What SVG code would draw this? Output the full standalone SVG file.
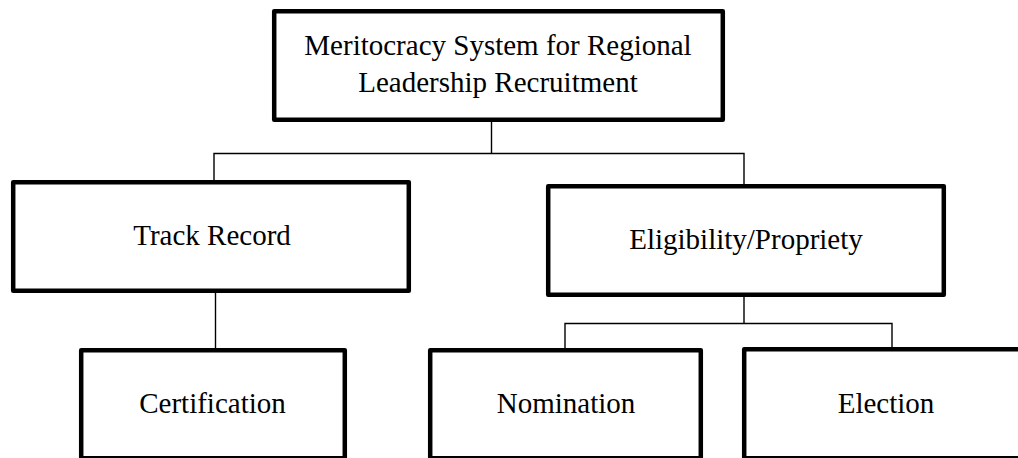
<svg xmlns="http://www.w3.org/2000/svg" width="1018" height="458" viewBox="0 0 1018 458">
<style>
.box{fill:#fff;stroke:#000;stroke-width:4.5;stroke-linejoin:round}
.lbl{font-family:"Liberation Serif","Times New Roman",serif;font-size:29px;fill:#000;text-anchor:middle}
.con{fill:none;stroke:#000;stroke-width:1.4}
</style>
<rect width="1018" height="458" fill="#fff"/>
<g id="connectors">
<path class="con" d="M491.5 122 V153.5 M214 180 V153.5 H744 V184"/>
<path class="con" d="M215.5 293 V348"/>
<path class="con" d="M744 297 V323.5 M565 348 V323.5 H892 V347"/>
</g>
<g id="root">
<rect class="box" x="274.2" y="11.2" width="448.6" height="108.6"/>
<text class="lbl" x="498" y="55">Meritocracy System for Regional</text>
<text class="lbl" x="498" y="92">Leadership Recruitment</text>
</g>
<g id="track-record">
<rect class="box" x="13.2" y="182.2" width="395.6" height="108.6"/>
<text class="lbl" x="212" y="245">Track Record</text>
</g>
<g id="eligibility">
<rect class="box" x="548.2" y="186.2" width="395.6" height="108.6"/>
<text class="lbl" x="746" y="249">Eligibility/Propriety</text>
</g>
<g id="certification">
<rect class="box" x="81.2" y="350.2" width="263.6" height="108"/>
<text class="lbl" x="212.5" y="413">Certification</text>
</g>
<g id="nomination">
<rect class="box" x="430.2" y="350.2" width="270.6" height="108"/>
<text class="lbl" x="566" y="413">Nomination</text>
</g>
<g id="election">
<rect class="box" x="744.2" y="349.2" width="290" height="109"/>
<text class="lbl" x="886" y="413">Election</text>
</g>
</svg>
